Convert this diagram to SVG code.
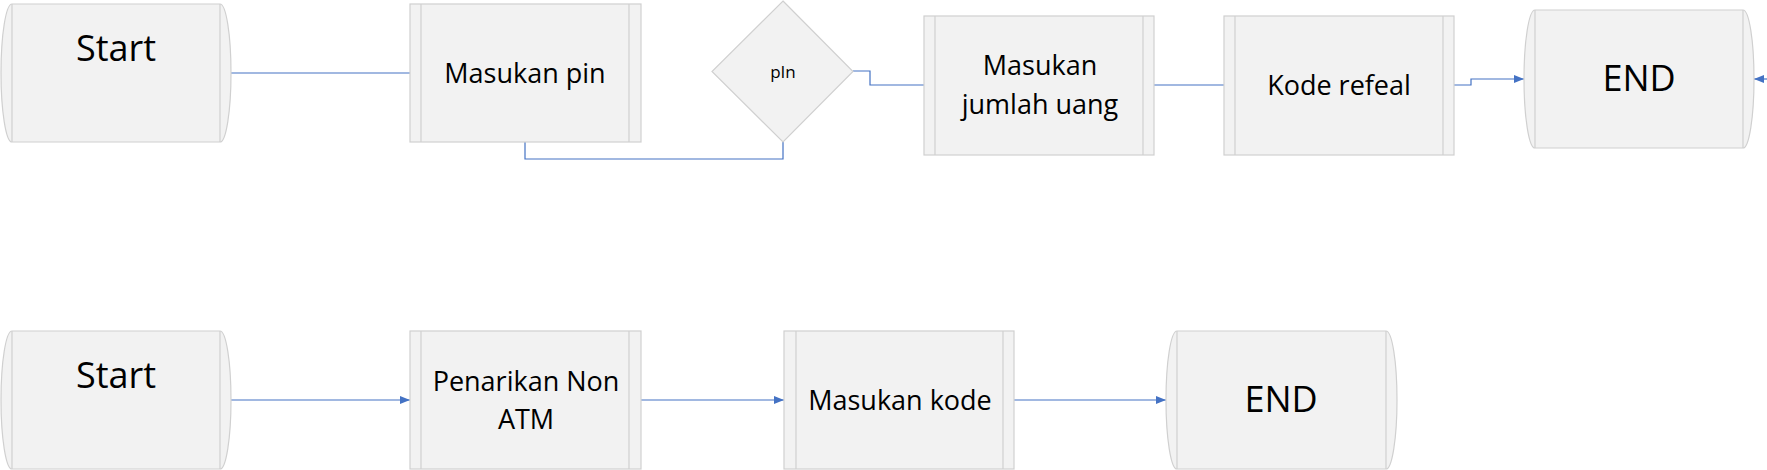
<svg xmlns="http://www.w3.org/2000/svg" width="1767" height="470" viewBox="0 0 1767 470">
<style>
.shape{fill:#f2f2f2;stroke:#d0d0d0;stroke-width:1.2}
.inner{fill:none;stroke:#d0d0d0;stroke-width:1.2}
.conn{fill:none;stroke:#4472c4;stroke-width:1.2}
text{font-family:"Open Sans","Noto Sans",sans-serif;fill:#000;text-anchor:middle}
.big{font-size:36px}
.mid{font-size:27px}
.small{font-size:17px}
</style>
<defs>
<marker id="arr" markerWidth="10" markerHeight="8" refX="10" refY="4" orient="auto" markerUnits="userSpaceOnUse">
<path d="M0,0 L10,4 L0,8 Z" fill="#4472c4"/>
</marker>
</defs>
<g id="connectors">
<path class="conn" d="M231,73 H411"/>
<path class="conn" d="M525,142 V159 H783 V142"/>
<path class="conn" d="M853,71 H870 V85 H924"/>
<path class="conn" d="M1154,85 H1224"/>
<path class="conn" d="M1454,85 H1471 V79 H1524" marker-end="url(#arr)"/>
<path class="conn" d="M1767,79 H1754" marker-end="url(#arr)"/>
<path class="conn" d="M231,400 H410" marker-end="url(#arr)"/>
<path class="conn" d="M641,400 H784" marker-end="url(#arr)"/>
<path class="conn" d="M1014,400 H1166" marker-end="url(#arr)"/>
</g>
<g id="start1">
<path class="shape" d="M12,4 H220 A11,69 0 0 1 220,142 H12 A11,69 0 0 1 12,4 Z"/>
<path class="inner" d="M12,4 V142 M220,4 V142"/>
<text class="big" x="116" y="61">Start</text>
</g>
<g id="masukan-pin">
<rect class="shape" x="410" y="4" width="231" height="138"/>
<path class="inner" d="M421,4 V142 M629,4 V142"/>
<text class="mid" x="525" y="83">Masukan pin</text>
</g>
<g id="pin-decision">
<path class="shape" d="M783,1 L853,71.5 L783,142 L712,71.5 Z"/>
<text class="small" x="783" y="78">pIn</text>
</g>
<g id="masukan-jumlah">
<rect class="shape" x="924" y="16" width="230" height="139"/>
<path class="inner" d="M935,16 V155 M1143,16 V155"/>
<text class="mid" x="1040" y="75">Masukan</text>
<text class="mid" x="1040" y="114">jumlah uang</text>
</g>
<g id="kode-refeal">
<rect class="shape" x="1224" y="16" width="230" height="139"/>
<path class="inner" d="M1235,16 V155 M1443,16 V155"/>
<text class="mid" x="1339" y="95">Kode refeal</text>
</g>
<g id="end1">
<path class="shape" d="M1535,10 H1743 A11,69 0 0 1 1743,148 H1535 A11,69 0 0 1 1535,10 Z"/>
<path class="inner" d="M1535,10 V148 M1743,10 V148"/>
<text class="big" x="1639" y="91">END</text>
</g>
<g id="start2">
<path class="shape" d="M12,331 H220 A11,69 0 0 1 220,469 H12 A11,69 0 0 1 12,331 Z"/>
<path class="inner" d="M12,331 V469 M220,331 V469"/>
<text class="big" x="116" y="388">Start</text>
</g>
<g id="penarikan">
<rect class="shape" x="410" y="331" width="231" height="138"/>
<path class="inner" d="M421,331 V469 M629,331 V469"/>
<text class="mid" x="526" y="391">Penarikan Non</text>
<text class="mid" x="526" y="429">ATM</text>
</g>
<g id="masukan-kode">
<rect class="shape" x="784" y="331" width="230" height="138"/>
<path class="inner" d="M796,331 V469 M1003,331 V469"/>
<text class="mid" x="900" y="410">Masukan kode</text>
</g>
<g id="end2">
<path class="shape" d="M1177,331 H1386 A11,69 0 0 1 1386,469 H1177 A11,69 0 0 1 1177,331 Z"/>
<path class="inner" d="M1177,331 V469 M1386,331 V469"/>
<text class="big" x="1281" y="412">END</text>
</g>
</svg>
